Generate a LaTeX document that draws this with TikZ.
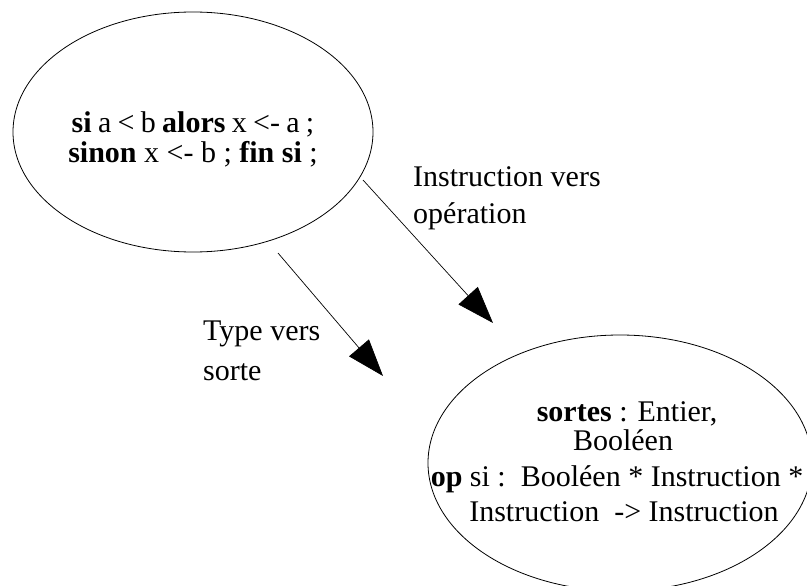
\documentclass[tikz,border=0pt]{standalone}
\usepackage{fontspec}
\setmainfont{Liberation Serif}
\usetikzlibrary{arrows.meta,shapes.geometric}
\begin{document}
\begin{tikzpicture}[x=1pt,y=-1pt,
  bubble/.style={draw,ellipse,line width=0.8pt,inner sep=0pt},
  txt/.style={inner sep=0pt,anchor=base,font=\fontsize{30}{36}\selectfont},
  lbl/.style={inner sep=0pt,anchor=base west,font=\fontsize{30}{36}\selectfont},
  link/.style={line width=0.7pt,-{Triangle[length=37pt,width=26pt]}}]
\useasboundingbox (0,0) rectangle (807,586);
\node[bubble,minimum width=360pt,minimum height=240pt] (e1) at (193,132) {};
\node[txt] (t1a) at (193,132) {\spaceskip=0.21em plus 0.1em\textbf{si} a < b \textbf{alors} x <- a ;};
\node[txt] (t1b) at (193,163) {\textbf{sinon} x <- b ; \textbf{fin si} ;};
\node[bubble,minimum width=384pt,minimum height=256pt] (e2) at (620,463) {};
\node[txt] (t2a) at (627,421) {\textbf{sortes} : Entier,};
\node[txt] (t2b) at (623,450) {Booléen};
\node[txt] (t2c) at (617,486) {\textbf{op} si :\ \ Booléen * Instruction *};
\node[txt] (t2d) at (624,521) {Instruction\ \ -> Instruction};
\node[lbl] (l1a) at (413,186) {Instruction vers};
\node[lbl] (l1b) at (413,223) {opération};
\node[lbl] (l2a) at (203,340) {Type vers};
\node[lbl] (l2b) at (203,380) {sorte};
\coordinate (a1s) at (363,180);
\coordinate (a1e) at (493,323);
\coordinate (a2s) at (278,253);
\coordinate (a2e) at (383,376);
\draw[link] (a1s) -- (a1e);
\draw[link] (a2s) -- (a2e);
\end{tikzpicture}
\end{document}
